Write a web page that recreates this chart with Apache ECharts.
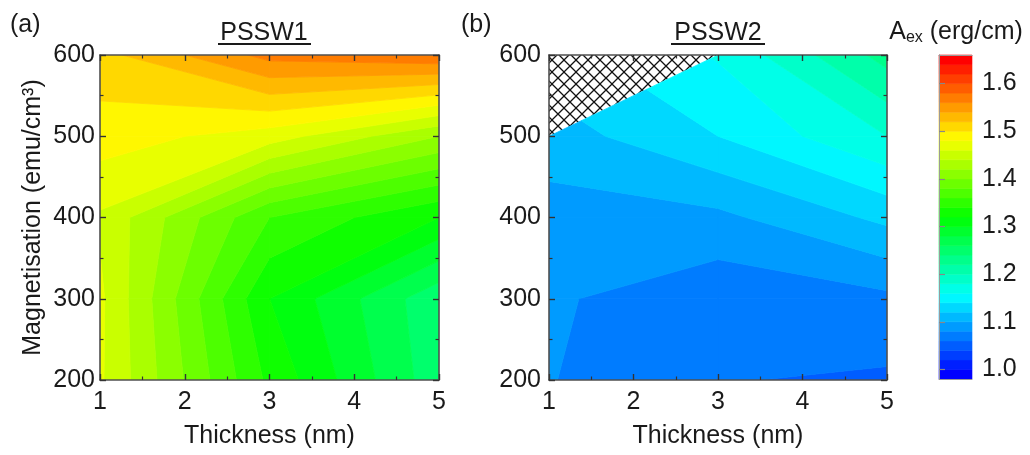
<!DOCTYPE html>
<html>
<head>
<meta charset="utf-8">
<script src="https://cdn.jsdelivr.net/npm/echarts@6/dist/echarts.min.js"></script>
<style>
  html, body { margin: 0; padding: 0; background: #fff; }
  #chart { width: 1030px; height: 455px; }
</style>
</head>
<body>
<div id="chart"></div>
<script>
// Measured grid: film thickness (nm) x saturation magnetisation (emu/cm3)
const thickness = [1, 3, 5];
const magnetisation = [200, 300, 400, 500, 600];

// Exchange stiffness A_ex (erg/cm); one row per magnetisation, one column per thickness
const pssw1 = [
  [1.463, 1.335, 1.247],
  [1.464, 1.320, 1.245],
  [1.457, 1.360, 1.320],
  [1.490, 1.470, 1.420],
  [1.513, 1.567, 1.577]
];
const pssw2 = [
  [1.081, 1.061, 1.057],
  [1.083, 1.066, 1.075],
  [1.092, 1.095, 1.125],
  [1.110, 1.140, 1.180],
  [null,  1.162, 1.228]
];

// Contour levels and colour-bar ticks
const levelMin = 0.98;
const levelMax = 1.66;
const levelStep = 0.02;
const colorbarTicks = [1.0, 1.1, 1.2, 1.3, 1.4, 1.5, 1.6];

const FONT = 'Liberation Sans, Arial, sans-serif';
const TEXT = '#1a1a1a';
const FRAME = '#505050';

const nLevels = Math.round((levelMax - levelMin) / levelStep);
const levels = [];
for (let k = 0; k <= nLevels; k++) levels.push(+(levelMin + k * levelStep).toFixed(4));

// Rainbow palette: blue -> cyan -> green -> yellow -> red
const stops = [[0, [0, 0, 255]], [0.25, [0, 255, 255]], [0.5, [0, 255, 0]], [0.75, [255, 255, 0]], [1, [255, 0, 0]]];
function palette(t) {
  t = Math.max(0, Math.min(1, t));
  for (let s = 1; s < stops.length; s++) {
    if (t <= stops[s][0]) {
      const a = stops[s - 1], b = stops[s];
      const f = (t - a[0]) / (b[0] - a[0]);
      const c = a[1].map((v, i) => Math.round(v + (b[1][i] - v) * f));
      return 'rgb(' + c.join(',') + ')';
    }
  }
  return 'rgb(255,0,0)';
}
const bandColors = [];
for (let k = 0; k < nLevels; k++) bandColors.push(palette(k / (nLevels - 1)));

// Clip a polygon with per-vertex values against v >= level (keepAbove) or v <= level
function clipPoly(pts, level, keepAbove) {
  const out = [];
  const inside = p => keepAbove ? p.v >= level : p.v <= level;
  for (let i = 0; i < pts.length; i++) {
    const cur = pts[i], prev = pts[(i + pts.length - 1) % pts.length];
    const ci = inside(cur), pi = inside(prev);
    if (ci !== pi) {
      const t = (level - prev.v) / (cur.v - prev.v);
      out.push({ x: prev.x + (cur.x - prev.x) * t, y: prev.y + (cur.y - prev.y) * t, v: level });
    }
    if (ci) out.push(cur);
  }
  return out;
}

// Cross-hatch tile for regions without data
const hatchTile = document.createElement('canvas');
hatchTile.width = 12; hatchTile.height = 12;
(function () {
  const g = hatchTile.getContext('2d');
  g.fillStyle = '#fff'; g.fillRect(0, 0, 12, 12);
  g.strokeStyle = '#111'; g.lineWidth = 1.3;
  g.beginPath();
  g.moveTo(-1, -1); g.lineTo(13, 13);
  g.moveTo(-1, 13); g.lineTo(13, -1);
  g.stroke();
})();

function cellItems() {
  const items = [];
  for (let j = 0; j < magnetisation.length - 1; j++) {
    for (let i = 0; i < thickness.length - 1; i++) {
      items.push([thickness[i], magnetisation[j], i, j]);
    }
  }
  return items;
}

function contourRenderer(values) {
  return function (params, api) {
    const i = api.value(2), j = api.value(3);
    const corners = [
      { x: thickness[i], y: magnetisation[j], v: values[j][i] },
      { x: thickness[i + 1], y: magnetisation[j], v: values[j][i + 1] },
      { x: thickness[i + 1], y: magnetisation[j + 1], v: values[j + 1][i + 1] },
      { x: thickness[i], y: magnetisation[j + 1], v: values[j + 1][i] }
    ];
    const children = [];
    const toPx = pts => pts.map(p => api.coord([p.x, p.y]));
    const poly = corners.filter(c => c.v !== null);
    const missing = corners.findIndex(c => c.v === null);
    if (missing >= 0) {
      const n = corners.length;
      const hatchPts = [corners[(missing + n - 1) % n], corners[missing], corners[(missing + 1) % n]];
      children.push({
        type: 'polygon',
        shape: { points: toPx(hatchPts) },
        style: { fill: { type: 'pattern', image: hatchTile, repeat: 'repeat' }, stroke: null }
      });
    }
    if (poly.length < 3) return { type: 'group', children };
    const vs = poly.map(p => p.v);
    const vmin = Math.min.apply(null, vs), vmax = Math.max.apply(null, vs);
    for (let k = 0; k < nLevels; k++) {
      const lo = k === 0 ? -Infinity : levels[k];
      const hi = k === nLevels - 1 ? Infinity : levels[k + 1];
      if (vmax < lo || vmin > hi) continue;
      let p = lo === -Infinity ? poly : clipPoly(poly, lo, true);
      if (p.length < 3) continue;
      if (hi !== Infinity) p = clipPoly(p, hi, false);
      if (p.length < 3) continue;
      children.push({
        type: 'polygon',
        shape: { points: toPx(p) },
        style: { fill: bandColors[k], stroke: bandColors[k], lineWidth: 0.8 }
      });
    }
    return { type: 'group', children };
  };
}

function bandItems() {
  const items = [];
  for (let k = 0; k < nLevels; k++) items.push([0, levels[k], levels[k + 1], k]);
  return items;
}

const tickFont = { color: TEXT, fontSize: 25, fontFamily: FONT };

function panelAxes(gridIndex, showYName, yLabelMargin) {
  const frameLine = { show: true, lineStyle: { color: FRAME, width: 1.6 } };
  const tick = { show: true, inside: true, length: 6, lineStyle: { color: '#333', width: 1.4 } };
  const minor = { show: true, splitNumber: 2, length: 3.5, lineStyle: { color: '#333', width: 1.2 } };
  const x = [
    {
      type: 'value', gridIndex, min: 1, max: 5, interval: 1, position: 'bottom', z: 5,
      axisLine: frameLine, axisTick: tick, minorTick: minor, splitLine: { show: false },
      axisLabel: Object.assign({ margin: 10 }, tickFont),
      name: 'Thickness (nm)', nameLocation: 'middle', nameGap: 44,
      nameTextStyle: { color: TEXT, fontSize: 25, fontFamily: FONT }
    },
    {
      type: 'value', gridIndex, min: 1, max: 5, interval: 1, position: 'top', z: 5,
      axisLine: frameLine, axisTick: tick, minorTick: minor, splitLine: { show: false },
      axisLabel: { show: false }
    }
  ];
  const y = [
    Object.assign({
      type: 'value', gridIndex, min: 200, max: 600, interval: 100, position: 'left', z: 5,
      axisLine: frameLine, axisTick: tick, minorTick: minor, splitLine: { show: false },
      axisLabel: Object.assign({ margin: yLabelMargin }, tickFont)
    }, showYName ? {
      name: 'Magnetisation (emu/cm³)', nameLocation: 'middle', nameGap: 54,
      nameTextStyle: { color: TEXT, fontSize: 25, fontFamily: FONT }
    } : {}),
    {
      type: 'value', gridIndex, min: 200, max: 600, interval: 100, position: 'right', z: 5,
      axisLine: frameLine, axisTick: tick, minorTick: minor, splitLine: { show: false },
      axisLabel: { show: false }
    }
  ];
  return { x, y };
}

const pa = panelAxes(0, true, 5);
const pb = panelAxes(1, false, 8);
const cbLine = { show: true, lineStyle: { color: '#999', width: 1 } };

const option = {
  animation: false,
  backgroundColor: '#fff',
  grid: [
    { left: 100, top: 55, width: 339, height: 325 },
    { left: 549, top: 55, width: 338, height: 325 },
    { left: 939, top: 55, width: 33, height: 324 }
  ],
  xAxis: [
    pa.x[0], pa.x[1], pb.x[0], pb.x[1],
    { type: 'value', gridIndex: 2, min: 0, max: 1, position: 'bottom', z: 5, axisLine: cbLine, axisTick: { show: false }, axisLabel: { show: false }, splitLine: { show: false } },
    { type: 'value', gridIndex: 2, min: 0, max: 1, position: 'top', z: 5, axisLine: cbLine, axisTick: { show: false }, axisLabel: { show: false }, splitLine: { show: false } }
  ],
  yAxis: [
    pa.y[0], pa.y[1], pb.y[0], pb.y[1],
    {
      type: 'value', gridIndex: 2, min: levelMin, max: levelMax, position: 'right', z: 5,
      axisLine: cbLine, splitLine: { show: false },
      axisTick: { show: true, inside: false, length: 6, customValues: colorbarTicks, lineStyle: { color: '#888', width: 1.2 } },
      axisLabel: Object.assign({ margin: 10, customValues: colorbarTicks, formatter: v => v.toFixed(1) }, tickFont)
    },
    { type: 'value', gridIndex: 2, min: levelMin, max: levelMax, position: 'left', z: 5, axisLine: cbLine, axisTick: { show: false }, axisLabel: { show: false }, splitLine: { show: false } }
  ],
  series: [
    {
      type: 'custom', name: 'PSSW1', xAxisIndex: 0, yAxisIndex: 0, clip: true,
      encode: { x: 0, y: 1 }, data: cellItems(), renderItem: contourRenderer(pssw1)
    },
    {
      type: 'custom', name: 'PSSW2', xAxisIndex: 2, yAxisIndex: 2, clip: true,
      encode: { x: 0, y: 1 }, data: cellItems(), renderItem: contourRenderer(pssw2)
    },
    {
      type: 'custom', name: 'colorbar', xAxisIndex: 4, yAxisIndex: 4,
      encode: { y: [1, 2] }, data: bandItems(),
      renderItem: function (params, api) {
        const p0 = api.coord([0, api.value(1)]);
        const p1 = api.coord([1, api.value(2)]);
        const color = bandColors[api.value(3)];
        return {
          type: 'rect',
          shape: { x: p0[0], y: p1[1], width: p1[0] - p0[0], height: p0[1] - p1[1] },
          style: { fill: color, stroke: color, lineWidth: 0.6 }
        };
      }
    }
  ],
  graphic: [
    { type: 'text', left: 10, top: 13, style: { text: '(a)', fill: TEXT, font: '25px ' + FONT } },
    { type: 'text', left: 461, top: 13, style: { text: '(b)', fill: TEXT, font: '25px ' + FONT } },
    { type: 'text', x: 264, y: 33, style: { text: 'PSSW1', fill: TEXT, font: '25px ' + FONT, align: 'center', verticalAlign: 'middle' } },
    { type: 'line', shape: { x1: 218, y1: 44, x2: 311, y2: 44 }, style: { stroke: TEXT, lineWidth: 2 } },
    { type: 'text', x: 718, y: 33, style: { text: 'PSSW2', fill: TEXT, font: '25px ' + FONT, align: 'center', verticalAlign: 'middle' } },
    { type: 'line', shape: { x1: 671, y1: 44, x2: 765, y2: 44 }, style: { stroke: TEXT, lineWidth: 2 } },
    {
      type: 'text', x: 956, y: 32,
      style: {
        text: '{a|A}{s|ex}{a| (erg/cm)}', align: 'center', verticalAlign: 'middle',
        rich: {
          a: { fill: TEXT, fontSize: 25, fontFamily: FONT, lineHeight: 28 },
          s: { fill: TEXT, fontSize: 16, fontFamily: FONT, lineHeight: 28, verticalAlign: 'bottom' }
        }
      }
    }
  ]
};

const chart = echarts.init(document.getElementById('chart'), null, { renderer: 'canvas' });
chart.setOption(option);
</script>
</body>
</html>
